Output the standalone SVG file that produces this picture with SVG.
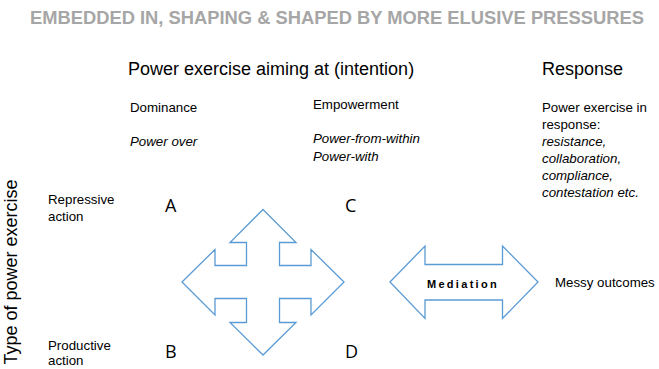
<svg xmlns="http://www.w3.org/2000/svg" width="659" height="369" viewBox="0 0 659 369">
<style>
text{font-family:"Liberation Sans",Arial,sans-serif;fill:#000}
.title{font-size:18px;font-weight:bold;fill:#a6a6a6}
.h{font-size:18px}
.t{font-size:13.3px}
.i{font-style:italic}
.L{font-family:"Open Sans","Liberation Sans",sans-serif;font-size:18px}
.arrow{fill:#fff;stroke:#5b9bd5;stroke-width:1.3;stroke-linejoin:miter}
</style>
<rect width="659" height="369" fill="#fff"/>
<g id="title"><text class="title" x="30" y="24" textLength="614" lengthAdjust="spacingAndGlyphs">EMBEDDED IN, SHAPING &amp; SHAPED BY MORE ELUSIVE PRESSURES</text></g>
<g id="intention">
<text class="h" x="128" y="75">Power exercise aiming at (intention)</text>
<text class="t" x="130" y="112">Dominance</text>
<text class="t i" x="130" y="146">Power over</text>
<text class="t" x="313" y="109">Empowerment</text>
<text class="t i" x="313" y="143">Power-from-within</text>
<text class="t i" x="313" y="161">Power-with</text>
</g>
<g id="response">
<text class="h" x="542" y="75">Response</text>
<text class="t" x="542" y="112">Power exercise in</text>
<text class="t" x="542" y="129">response:</text>
<text class="t i" x="542" y="146">resistance,</text>
<text class="t i" x="542" y="163">collaboration,</text>
<text class="t i" x="542" y="180">compliance,</text>
<text class="t i" x="542" y="197">contestation etc.</text>
</g>
<g id="type-axis"><text class="h" transform="translate(17,272) rotate(-90)" text-anchor="middle">Type of power exercise</text></g>
<g id="repressive"><text class="t" x="48" y="204">Repressive</text><text class="t" x="48" y="221">action</text></g>
<g id="productive"><text class="t" x="48" y="350">Productive</text><text class="t" x="48" y="365">action</text></g>
<g id="A"><text class="L" x="165" y="212">A</text></g>
<g id="C"><text class="L" x="345" y="212">C</text></g>
<g id="B"><text class="L" x="165" y="358">B</text></g>
<g id="D"><text class="L" x="345" y="358">D</text></g>
<g id="connectors">
<path class="arrow" d="M263,209.5 L296,242.5 L279.5,242.5 L279.5,265.5 L311,265.5 L311,249.5 L344,282 L311,315 L311,298.5 L279.5,298.5 L279.5,322.5 L296,322.5 L263,355 L230,322.5 L246.5,322.5 L246.5,298.5 L215,298.5 L215,315 L182,282 L215,249.5 L215,265.5 L246.5,265.5 L246.5,242.5 L230,242.5 Z"/>
<g id="mediation">
<path class="arrow" d="M390,282 L425,246 L425,264.5 L502.5,264.5 L502.5,246 L538,282 L502.5,318.5 L502.5,300 L425,300 L425,318.5 Z"/>
<text x="463" y="288" text-anchor="middle" style="font-size:11px;font-weight:bold;letter-spacing:2.3px">Mediation</text>
</g>
</g>
<g id="messy"><text class="t" x="555" y="287">Messy outcomes</text></g>
</svg>
